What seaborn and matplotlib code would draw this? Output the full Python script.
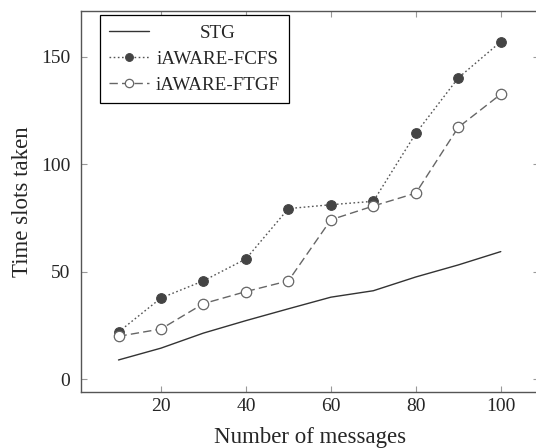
import matplotlib
matplotlib.use("Agg")
import matplotlib.pyplot as plt
import seaborn as sns
import pandas as pd

messages = [10, 20, 30, 40, 50, 60, 70, 80, 90, 100]
stg = [9, 14.5, 21.5, 27.3, 32.8, 38.2, 41.2, 47.6, 53.2, 59.4]
fcfs = [22, 37.8, 45.8, 56, 79.4, 81.2, 82.8, 114.4, 140.2, 157]
ftgf = [20, 23.4, 35.2, 40.8, 45.8, 74.2, 80.6, 86.6, 117.2, 132.6]
xticks = [20, 40, 60, 80, 100]
yticks = [0, 50, 100, 150]

sns.set_style("white")
plt.rcParams['font.family'] = ['Liberation Serif', 'DejaVu Serif']

fig = plt.figure(figsize=(5.36, 4.48), dpi=100)
ax = fig.add_axes([80.7 / 536, 56 / 448, (539 - 80.7) / 536, 381 / 448])

df = pd.DataFrame({"x": messages, "STG": stg, "iAWARE-FCFS": fcfs, "iAWARE-FTGF": ftgf})

sns.lineplot(data=df, x="x", y="STG", ax=ax, color="#333333", lw=1.0, label="STG")
sns.lineplot(data=df, x="x", y="iAWARE-FCFS", ax=ax, color="#555555", lw=1.0,
             linestyle=(0, (1.2, 1.8)), marker="o", markersize=7, markerfacecolor="#444444",
             markeredgecolor="#444444", label="iAWARE-FCFS")
sns.lineplot(data=df, x="x", y="iAWARE-FTGF", ax=ax, color="#666666", lw=1.0,
             linestyle=(0, (6, 3)), marker="o", markersize=7.5, markerfacecolor="white",
             markeredgecolor="#666666", markeredgewidth=0.9, label="iAWARE-FTGF")

ax.set_xlim(1.1, 109)
ax.set_ylim(-5.9, 171.3)
ax.set_xticks(xticks)
ax.set_yticks(yticks)
ax.set_xlabel("Number of messages", fontsize=16.5, labelpad=9)
ax.set_ylabel("Time slots taken", fontsize=16.5, labelpad=6)
ax.tick_params(axis="both", which="both", direction="in", length=4.5, color="#999999",
               labelsize=14, top=True, right=True, bottom=True, left=True)
ax.tick_params(axis="x", pad=4)
ax.tick_params(axis="y", pad=7.5)
for s in ax.spines.values():
    s.set_color("#555555")
    s.set_linewidth(1.0)

leg = ax.legend(loc="upper left", bbox_to_anchor=(0.042, 0.9895), borderaxespad=0,
                fontsize=13.7, frameon=True, fancybox=False, edgecolor="black", framealpha=1,
                handlelength=2.1, borderpad=0.5, labelspacing=0.45, handletextpad=0.3,
                markerscale=0.8)
leg.get_frame().set_linewidth(0.9)

# centre the legend entries within the text column (as in pgfplots)
fig.canvas.draw()
r = fig.canvas.get_renderer()
texts = leg.get_texts()
boxes = [t.get_window_extent(r) for t in texts]
col_x0 = min(b.x0 for b in boxes)
col_x1 = max(b.x1 for b in boxes)
cx = (col_x0 + col_x1) / 2
inv = fig.transFigure.inverted()
for t, b in zip(texts, boxes):
    if b.width < (col_x1 - col_x0) - 2:
        label = t.get_text()
        cy = (b.y0 + b.y1) / 2
        fx, fy = inv.transform((cx, cy))
        t.set_text(" ")
        fig.text(fx, fy, label, ha="center", va="center", fontsize=13.7)

fig.savefig("out.png", dpi=100)
